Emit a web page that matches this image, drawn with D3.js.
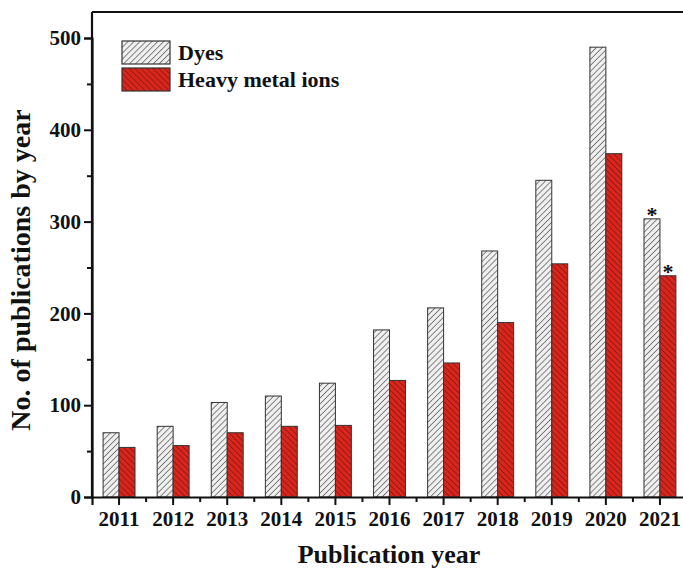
<!DOCTYPE html>
<html>
<head>
<meta charset="utf-8">
<script src="https://cdn.jsdelivr.net/npm/d3@7"></script>
<style>
  body { margin: 0; background: #fff; }
  text { font-family: "Liberation Serif", "Times New Roman", serif; font-weight: bold; fill: #111; }
</style>
</head>
<body>
<div id="chart"></div>
<script>
const years = ["2011", "2012", "2013", "2014", "2015", "2016", "2017", "2018", "2019", "2020", "2021"];
const dyes = [70, 77, 103, 110, 124, 182, 206, 268, 345, 490, 303];
const heavyMetals = [54, 56, 70, 77, 78, 127, 146, 190, 254, 374, 241];
const seriesNames = ["Dyes", "Heavy metal ions"];
const yTicks = [0, 100, 200, 300, 400, 500];
const starredYear = "2021";

let width = 683,
    height = 576,
    plotLeft = 92, plotTop = 12, plotBottom = 497, plotRight = 687;

const svg = d3.select("#chart").append("svg")
    .attr("width", width)
    .attr("height", height);

const defs = svg.append("defs");
function hatch(id, bg, line, angle) {
    const p = defs.append("pattern")
        .attr("id", id)
        .attr("patternUnits", "userSpaceOnUse")
        .attr("width", 4.2).attr("height", 4.2)
        .attr("patternTransform", "rotate(" + angle + ")");
    p.append("rect").attr("width", 4.2).attr("height", 4.2).attr("fill", bg);
    p.append("line").attr("x1", 0).attr("y1", 0).attr("x2", 0).attr("y2", 4.2)
        .attr("stroke", line).attr("stroke-width", 1.3);
}
hatch("hDyes", "#efefef", "#4a4a4a", 45);
hatch("hMetal", "#d8261c", "#7c1410", -45);
const fills = ["url(#hDyes)", "url(#hMetal)"];

const x = d3.scaleBand()
    .domain(years)
    .range([plotLeft, plotRight])
    .paddingInner(0.41)
    .paddingOuter(0.205);

const xSub = d3.scaleBand()
    .domain([0, 1])
    .range([0, x.bandwidth()]);

const y = d3.scaleLinear()
    .domain([0, 500])
    .range([plotBottom, 38]);

// bars
const groups = svg.append("g").selectAll("g")
    .data(years)
    .enter().append("g")
    .attr("transform", d => "translate(" + x(d) + ",0)");

groups.selectAll("rect")
    .data((d, i) => [dyes[i], heavyMetals[i]])
    .enter().append("rect")
    .attr("x", (d, j) => xSub(j))
    .attr("y", d => y(d))
    .attr("width", xSub.bandwidth())
    .attr("height", d => plotBottom - y(d))
    .attr("fill", (d, j) => fills[j])
    .attr("stroke", "#333")
    .attr("stroke-width", 1);

// asterisks on last year
const si = years.indexOf(starredYear);
[dyes[si], heavyMetals[si]].forEach((v, j) => {
    svg.append("text")
        .attr("x", x(starredYear) + xSub(j) + xSub.bandwidth() / 2)
        .attr("y", y(v) + 3)
        .attr("text-anchor", "middle")
        .style("font-size", "22px")
        .text("*");
});

// y axis
const yAxis = svg.append("g")
    .attr("transform", "translate(" + plotLeft + ",0)")
    .call(d3.axisLeft(y).tickValues(yTicks).tickSize(8).tickPadding(3));
svg.append("g")
    .attr("transform", "translate(" + plotLeft + ",0)")
    .call(d3.axisLeft(y).tickValues(d3.range(50, 500, 100)).tickSize(5).tickFormat(""))
    .select(".domain").remove();

// x axis
const xAxis = svg.append("g")
    .attr("transform", "translate(0," + plotBottom + ")")
    .call(d3.axisBottom(x).tickSize(8).tickPadding(6));
const minorX = years.slice(1).map(d => x(d) - x.step() * x.paddingInner() / 2);
svg.append("g").selectAll("line")
    .data(minorX)
    .enter().append("line")
    .attr("x1", d => d).attr("x2", d => d)
    .attr("y1", plotBottom).attr("y2", plotBottom + 5)
    .attr("stroke", "#111").attr("stroke-width", 2);

[yAxis, xAxis].forEach(a => {
    a.selectAll("text").style("font-size", "21px").style("font-family", "Liberation Serif").style("font-weight", "bold").attr("fill", "#111");
    a.select(".domain").attr("stroke", "#111").attr("stroke-width", 2.2);
});
svg.selectAll(".tick line").attr("stroke", "#111").attr("stroke-width", 2);

// frame top and left
svg.append("line")
    .attr("x1", plotLeft).attr("x2", width + 5)
    .attr("y1", plotTop).attr("y2", plotTop)
    .attr("stroke", "#111").attr("stroke-width", 2.2);
svg.append("line")
    .attr("x1", plotLeft).attr("x2", plotLeft)
    .attr("y1", plotTop).attr("y2", plotBottom)
    .attr("stroke", "#111").attr("stroke-width", 2.2);

// axis titles
svg.append("text")
    .attr("x", 389).attr("y", 563)
    .attr("text-anchor", "middle")
    .style("font-size", "26px")
    .text("Publication year");
svg.append("text")
    .attr("transform", "translate(30,270) rotate(-90)")
    .attr("text-anchor", "middle")
    .style("font-size", "28px")
    .text("No. of publications by year");

// legend
const legend = svg.append("g").selectAll("g")
    .data(seriesNames)
    .enter().append("g")
    .attr("transform", (d, i) => "translate(122," + (41 + i * 27) + ")");
legend.append("rect")
    .attr("width", 48).attr("height", 23)
    .attr("fill", (d, i) => fills[i])
    .attr("stroke", "#333").attr("stroke-width", 1.2);
legend.append("text")
    .attr("x", 56).attr("y", 19)
    .style("font-size", "22px")
    .text(d => d);
</script>
</body>
</html>
